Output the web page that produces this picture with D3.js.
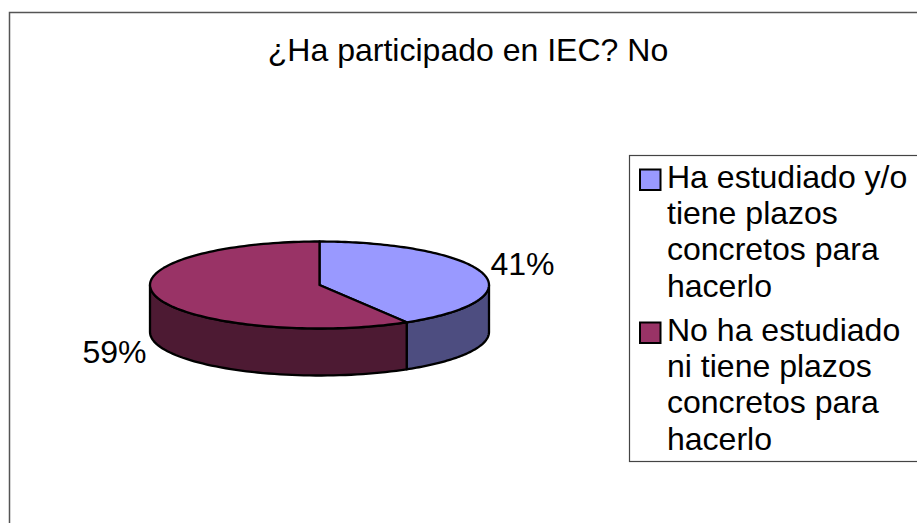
<!DOCTYPE html>
<html>
<head>
<meta charset="utf-8">
<script src="https://cdn.jsdelivr.net/npm/d3@7"></script>
<style>
  html, body { margin: 0; padding: 0; background: #fff; }
  svg { display: block; }
  text { font-family: "Liberation Sans", Arial, sans-serif; fill: #000; }
</style>
</head>
<body>
<svg id="chart"></svg>
<script>
const categories = ["Ha estudiado y/o tiene plazos concretos para hacerlo", "No ha estudiado ni tiene plazos concretos para hacerlo"];
const values = [41.4, 58.6];
const legendLines = [
  ["Ha estudiado y/o", "tiene plazos", "concretos para", "hacerlo"],
  ["No ha estudiado", "ni tiene plazos", "concretos para", "hacerlo"]
];
const topColors = ["#9999ff", "#993366"];
const sideColors = ["#4d4d80", "#4d1a33"];
const title = "¿Ha participado en IEC? No";

const width = 917;
const height = 523;
const cx = 319.5, cy = 285, rx = 169.5, ry = 43.5, depth = 47;
// the reference text is a bit wider than the plain font at this height
const fontSize = 30.5;
const stretch = 1.05;

function place(x, y) {
  return `translate(${x},${y}) scale(${stretch},1)`;
}

const svg = d3.select("#chart")
  .attr("width", width)
  .attr("height", height)
  .attr("viewBox", [0, 0, width, height]);

// outer frame runs off the right and bottom of the picture
svg.append("rect")
  .attr("x", 9.5).attr("y", 12.5)
  .attr("width", 940).attr("height", 560)
  .attr("fill", "#fff")
  .attr("stroke", "#555")
  .attr("stroke-width", 1.5);

svg.append("text")
  .attr("transform", place(468, 61))
  .attr("text-anchor", "middle")
  .attr("font-size", fontSize)
  .text(title);

const slices = d3.pie().sort(null)(values);

function pt(a, dy) {
  return [cx + rx * Math.sin(a), cy - ry * Math.cos(a) + dy];
}

const line = d3.line();
const pie3d = svg.append("g");

// side walls, only the front half of the disc is visible
pie3d.selectAll(".side")
  .data(slices)
  .join("path")
  .classed("side", true)
  .attr("d", d => {
    const a0 = Math.max(d.startAngle, Math.PI / 2);
    const a1 = Math.min(d.endAngle, Math.PI * 1.5);
    const angles = d3.range(0, 61).map(i => a0 + (a1 - a0) * i / 60);
    const top = angles.map(a => pt(a, 0));
    const bottom = angles.slice().reverse().map(a => pt(a, depth));
    return line(top.concat(bottom)) + "Z";
  })
  .attr("fill", (d, i) => sideColors[i])
  .attr("stroke", "#000")
  .attr("stroke-width", 2.3)
  .attr("stroke-linejoin", "round");

// top face
pie3d.selectAll(".slice")
  .data(slices)
  .join("path")
  .classed("slice", true)
  .attr("d", d => {
    const angles = d3.range(0, 121).map(i => d.startAngle + (d.endAngle - d.startAngle) * i / 120);
    return line([[cx, cy]].concat(angles.map(a => pt(a, 0)))) + "Z";
  })
  .attr("fill", (d, i) => topColors[i])
  .attr("stroke", "#000")
  .attr("stroke-width", 2.3)
  .attr("stroke-linejoin", "round");

// percent labels
const labelPos = [[522.5, 275], [114.5, 362.5]];
svg.selectAll(".pct")
  .data(values)
  .join("text")
  .classed("pct", true)
  .attr("transform", (d, i) => place(labelPos[i][0], labelPos[i][1]))
  .attr("text-anchor", "middle")
  .attr("font-size", fontSize)
  .text(d => Math.round(d) + "%");

// legend
svg.append("rect")
  .attr("x", 629.5).attr("y", 155.5)
  .attr("width", 320).attr("height", 306)
  .attr("fill", "#fff")
  .attr("stroke", "#444")
  .attr("stroke-width", 1.2);

const legendY = [169, 322];
const legend = svg.selectAll(".legend")
  .data(categories)
  .join("g")
  .classed("legend", true);

legend.append("rect")
  .attr("x", 640).attr("y", (d, i) => legendY[i] + 0.5)
  .attr("width", 20.5).attr("height", 20.5)
  .attr("fill", (d, i) => topColors[i])
  .attr("stroke", "#000")
  .attr("stroke-width", 2);

legend.each(function(d, i) {
  d3.select(this).selectAll("text")
    .data(legendLines[i])
    .join("text")
    .attr("transform", (t, j) => place(667, legendY[i] + 19 + j * 36.2))
    .attr("font-size", fontSize)
    .text(t => t);
});
</script>
</body>
</html>
